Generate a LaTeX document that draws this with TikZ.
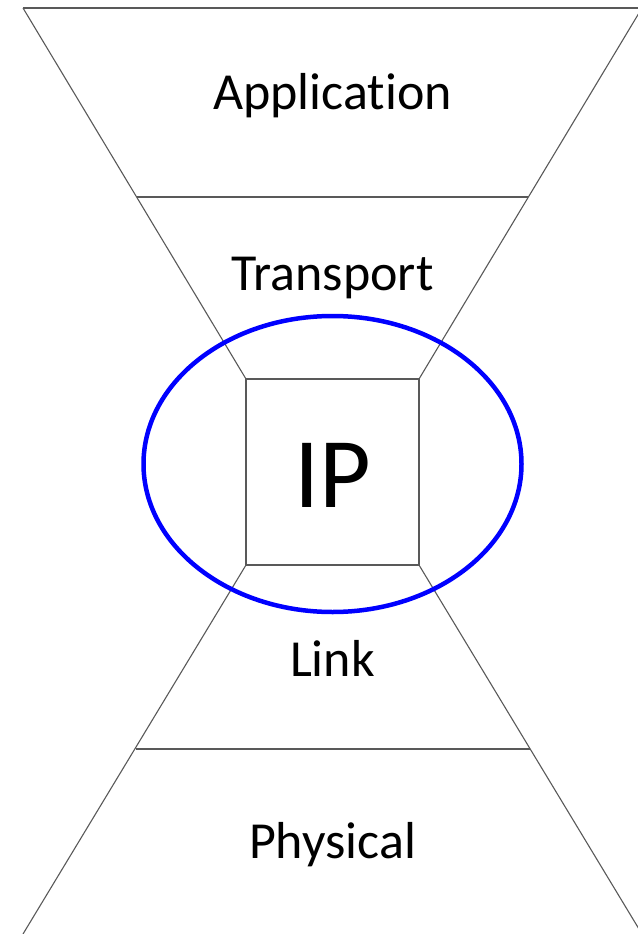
\documentclass[tikz,border=0pt]{standalone}
\usepackage{fontspec}
\setmainfont{Carlito}[Ligatures=NoCommon]

\begin{document}
\begin{tikzpicture}[x=1pt,y=-1pt]
\def \fs {52}
\useasboundingbox (0,0) rectangle (637,934);

% corners of the hourglass
\coordinate (tl) at (23,8);
\coordinate (tr) at (642,8);
\coordinate (bl) at (23,934);
\coordinate (br) at (642,934);
\coordinate (ipnw) at (246,379);
\coordinate (ipne) at (419,379);
\coordinate (ipsw) at (246,565);
\coordinate (ipse) at (419,565);
\coordinate (appl) at (137,197);
\coordinate (appr) at (528,197);
\coordinate (linkl) at (136,749);
\coordinate (linkr) at (530,749);

\begin{scope}[draw=black!65, line width=1.1pt]
  \draw (tl) -- (tr);
  \draw (tl) -- (ipnw);
  \draw (tr) -- (ipne);
  \draw (appl) -- (appr);
  \draw (ipnw) rectangle (ipse);
  \draw (ipsw) -- (bl);
  \draw (ipse) -- (br);
  \draw (linkl) -- (linkr);
\end{scope}

% layer names
\foreach \name/\y in {Application/109, Transport/290, Link/676, Physical/858}
  \node[anchor=base, inner sep=0, font=\fontsize{\fs}{\fs}\selectfont] (\name) at (332.5,\y) {\name};
\node[anchor=base, inner sep=0, font=\fontsize{100}{100}\selectfont] (ip) at (332.5,507) {IP};

% the narrow waist
\draw[blue, line width=4.5pt] (332.5,464) ellipse [x radius=189, y radius=148];
\end{tikzpicture}
\end{document}
